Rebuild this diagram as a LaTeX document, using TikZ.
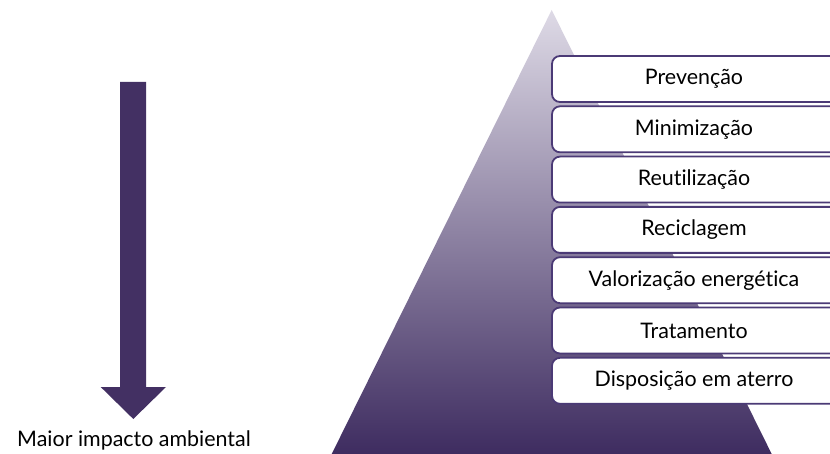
\documentclass[tikz,border=0pt]{standalone}
\usepackage{fontspec}
\setmainfont{Lato}[Ligatures={NoCommon,NoRequired,NoContextual}]
\definecolor{boxline}{HTML}{4B3A76}
\definecolor{arrowcol}{HTML}{433063}
\definecolor{pyrtop}{HTML}{DEDAE6}
\definecolor{pyrbot}{HTML}{3E2C60}
\tikzset{
  levelbox/.style={draw=boxline, line width=1.8bp, fill=white, rounded corners=8bp},
  leveltext/.style={font=\fontsize{21.5}{24}\selectfont, text=black, inner sep=0pt},
}
\begin{document}
\begin{tikzpicture}[x=1bp,y=-1bp]
\fill[white] (0,0) rectangle (830,454);
\useasboundingbox (0,0) rectangle (830,454);
\begin{scope}
\clip (0,0) rectangle (830,454);
% pyramid
\shade[top color=pyrtop, bottom color=pyrbot] (551.7,10) -- (771.7,454) -- (331.7,454) -- cycle;
% boxes
\foreach \i/\t in {0/Prevenção,1/Minimização,2/Reutilização,3/Reciclagem,4/Valorização energética,5/Tratamento,6/Disposição em aterro}{
  \pgfmathsetmacro{\ytop}{56+50.3*\i}
  \draw[levelbox] (552,\ytop) rectangle (850,\ytop+46);
  \node[leveltext] (lvl\i) at (694,\ytop+23) {\t};
}
\end{scope}
% arrow
\fill[arrowcol] (120,82) -- (146,82) -- (146,387) -- (166,387) -- (133.3,419) -- (100.7,387) -- (120,387) -- cycle;
\node[leveltext] (impact) at (134,440) {Maior impacto ambiental};
\end{tikzpicture}
\end{document}
